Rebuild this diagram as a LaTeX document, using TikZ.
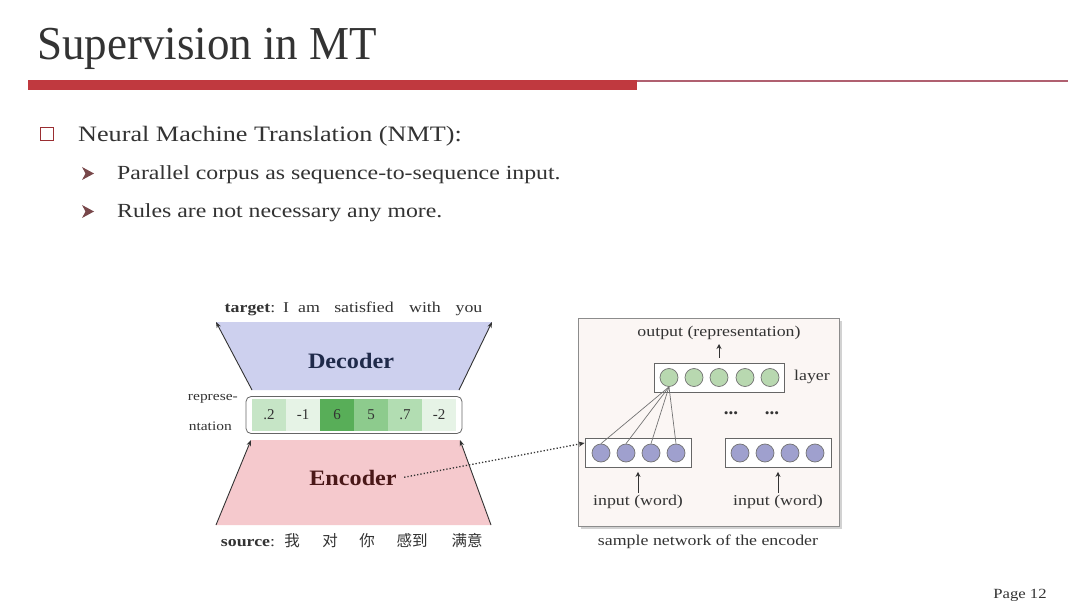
\documentclass[tikz,border=0pt]{standalone}
\usepackage{fontspec}
\setmainfont{Liberation Serif}
\newfontfamily\cjk{Noto Sans CJK SC}
\usetikzlibrary{arrows.meta,shadows}
\newcommand{\wide}[1]{\scalebox{1.19}[1]{#1}}
\newcommand{\wider}[1]{\scalebox{1.1}[1]{#1}}
\definecolor{barred}{HTML}{C0393F}
\definecolor{thinred}{HTML}{B06070}
\definecolor{decfill}{HTML}{CDD0EE}
\definecolor{encfill}{HTML}{F5C9CD}
\definecolor{dectext}{HTML}{1F2A4A}
\definecolor{enctext}{HTML}{4A1818}
\definecolor{gA}{HTML}{C6E5C6}
\definecolor{gB}{HTML}{E6F3E6}
\definecolor{gC}{HTML}{58AE58}
\definecolor{gD}{HTML}{8DCB8D}
\definecolor{gE}{HTML}{B2DDB2}
\definecolor{panelfill}{HTML}{FBF6F4}
\definecolor{layerc}{HTML}{B8D8B0}
\definecolor{inc}{HTML}{9FA0CE}
\definecolor{txt}{HTML}{333333}
\tikzset{
  arr/.style={-{Stealth[length=6pt,width=4.5pt]}, line width=0.9pt, draw=txt},
  uparr/.style={-{Stealth[length=5pt,width=5pt]}, line width=1pt, draw=txt},
  small/.style={font=\fontsize{15}{17}\selectfont, text=txt, inner sep=0},
  cell/.style={minimum width=34, minimum height=32, inner sep=0, font=\fontsize{15}{17}\selectfont, text=txt},
  boxr/.style={draw=black!60, fill=white, line width=0.8pt, minimum width=106, minimum height=29, inner sep=0},
  neuron/.style={circle, draw=black!55, line width=0.7pt, minimum size=18, inner sep=0},
  dots/.style={font=\bfseries\fontsize{19}{20}\selectfont, text=txt, inner sep=0},
}
\begin{document}
\begin{tikzpicture}[x=1pt,y=-1pt]
\useasboundingbox[fill=white] (0,0) rectangle (1080,607);
% title
\node[anchor=base west, inner sep=0, font=\fontsize{45}{48}\selectfont, text=black!80] (title) at (37,60) {\scalebox{1.0}[1.05]{Supervision in MT}};
\fill[barred] (28,80) rectangle (637,90);
\draw[thinred, line width=1.5pt] (637,81) -- (1068,81);
% bullets
\node[draw=barred!80!black, line width=1.4pt, minimum size=13, inner sep=0] (sq) at (47,134) {};
\node[anchor=base west, inner sep=0, font=\fontsize{22}{26}\selectfont, text=txt] (b1) at (78,142) {\wide{Neural Machine Translation (NMT):}};
\fill[barred!45!black!80] (82,167) -- (94,173.5) -- (82,180) -- (85.5,173.5) -- cycle;
\node[anchor=base west, inner sep=0, font=\fontsize{20}{24}\selectfont, text=txt] (b2) at (117,180) {\wide{Parallel corpus as sequence-to-sequence input.}};
\fill[barred!45!black!80] (82,205) -- (94,211.5) -- (82,218) -- (85.5,211.5) -- cycle;
\node[anchor=base west, inner sep=0, font=\fontsize{20}{24}\selectfont, text=txt] (b3) at (117,218) {\wide{Rules are not necessary any more.}};
% decoder
\coordinate (dtl) at (216,322);
\coordinate (dtr) at (492,322);
\coordinate (dbl) at (252,390);
\coordinate (dbr) at (459,390);
\fill[decfill] (dbl) -- (dtl) -- (dtr) -- (dbr) -- cycle;
\draw[arr] (dbl) -- (dtl);
\draw[arr] (dbr) -- (dtr);
\node[font=\bfseries\fontsize{22}{24}\selectfont, text=dectext] (dec) at (351,361) {\wider{Decoder}};
% encoder
\coordinate (ebl) at (216,525);
\coordinate (ebr) at (491,525);
\coordinate (etl) at (251,440);
\coordinate (etr) at (460,440);
\fill[encfill] (ebl) -- (etl) -- (etr) -- (ebr) -- cycle;
\draw[arr] (ebl) -- (etl);
\draw[arr] (ebr) -- (etr);
\node[font=\bfseries\fontsize{22}{24}\selectfont, text=enctext] (enc) at (353,478) {\wider{Encoder}};
% representation
\node[cell, fill=gA] (c1) at (269,415) {.2};
\node[cell, fill=gB] (c2) at (303,415) {-1};
\node[cell, fill=gC] (c3) at (337,415) {6};
\node[cell, fill=gD] (c4) at (371,415) {5};
\node[cell, fill=gE] (c5) at (405,415) {.7};
\node[cell, fill=gB] (c6) at (439,415) {-2};
\node[draw=black!60, line width=0.8pt, rounded corners=5, minimum width=216, minimum height=37, inner sep=0] (rep) at (354,415) {};
\node[small, font=\fontsize{13}{15}\selectfont, anchor=east] (rl1) at (238,399) {\wide{represe-}};
\node[small, font=\fontsize{13}{15}\selectfont, anchor=east] (rl2) at (232,426) {\wide{ntation}};
% target / source
\node[small, anchor=base] (tg) at (250,312) {\wide{\textbf{target}:}};
\node[small, anchor=base] (t1) at (286,312) {\wide{I}};
\node[small, anchor=base] (t2) at (309,312) {\wide{am}};
\node[small, anchor=base] (t3) at (364,312) {\wide{satisfied}};
\node[small, anchor=base] (t4) at (425,312) {\wide{with}};
\node[small, anchor=base] (t5) at (469,312) {\wide{you}};
\node[small, anchor=base] (sg) at (248,546) {\wide{\textbf{source}:}};
\node[small, anchor=base, font=\cjk\fontsize{15.5}{17}\selectfont] (s1) at (292,546) {我};
\node[small, anchor=base, font=\cjk\fontsize{15.5}{17}\selectfont] (s2) at (330,546) {对};
\node[small, anchor=base, font=\cjk\fontsize{15.5}{17}\selectfont] (s3) at (367,546) {你};
\node[small, anchor=base, font=\cjk\fontsize{15.5}{17}\selectfont] (s4) at (412,546) {感到};
\node[small, anchor=base, font=\cjk\fontsize{15.5}{17}\selectfont] (s5) at (467,546) {满意};
% panel
\node[draw=black!45, fill=panelfill, line width=0.8pt, minimum width=261, minimum height=208, inner sep=0,
      drop shadow={opacity=0.35, shadow xshift=3pt, shadow yshift=-3pt}] (panel) at (708.5,422) {};
\node[small] (out) at (719,333) {\wide{output (representation)}};
\node[boxr, minimum width=130] (layer) at (719,377.5) {};
\coordinate (outarr) at (719,344);
\draw[uparr, shorten <=5pt] (layer.north) -- (outarr);
\foreach \i/\x in {1/669,2/694,3/719,4/745,5/770}{
  \node[neuron, fill=layerc] (l\i) at (\x,377.5) {};
}
\node[small] (lay) at (812,377) {\wide{layer}};
\node[dots] (d1) at (731,413) {...};
\node[dots] (d2) at (772,413) {...};
\node[boxr] (inL) at (638,453) {};
\node[boxr] (inR) at (778,453) {};
\foreach \i/\x in {1/601,2/626,3/651,4/676}{
  \node[neuron, fill=inc] (a\i) at (\x,453) {};
  \draw[black!55, line width=0.7pt] (l1.south) -- (a\i.north);
}
\foreach \i/\x in {1/740,2/765,3/790,4/815}{
  \node[neuron, fill=inc] (b\i) at (\x,453) {};
}
\node[small] (iw1) at (638,502) {\wide{input (word)}};
\node[small] (iw2) at (778,502) {\wide{input (word)}};
\draw[uparr, shorten >=4pt] (iw1.north) ++(0,-2) coordinate (q1) (q1) -- (inL.south);
\draw[uparr, shorten >=4pt] (iw2.north) ++(0,-2) coordinate (q2) (q2) -- (inR.south);
\node[small] (cap) at (708,542) {\wide{sample network of the encoder}};
% dotted connector
\draw[dotted, line width=1.3pt, draw=txt, -{Stealth[length=6pt,width=5pt]}, shorten <=4pt] (enc.east) -- (inL.west |- 0,443);
% page
\node[small, font=\fontsize{14}{16}\selectfont, anchor=base] (pg) at (1020,598) {\wide{Page 12}};
\end{tikzpicture}
\end{document}
